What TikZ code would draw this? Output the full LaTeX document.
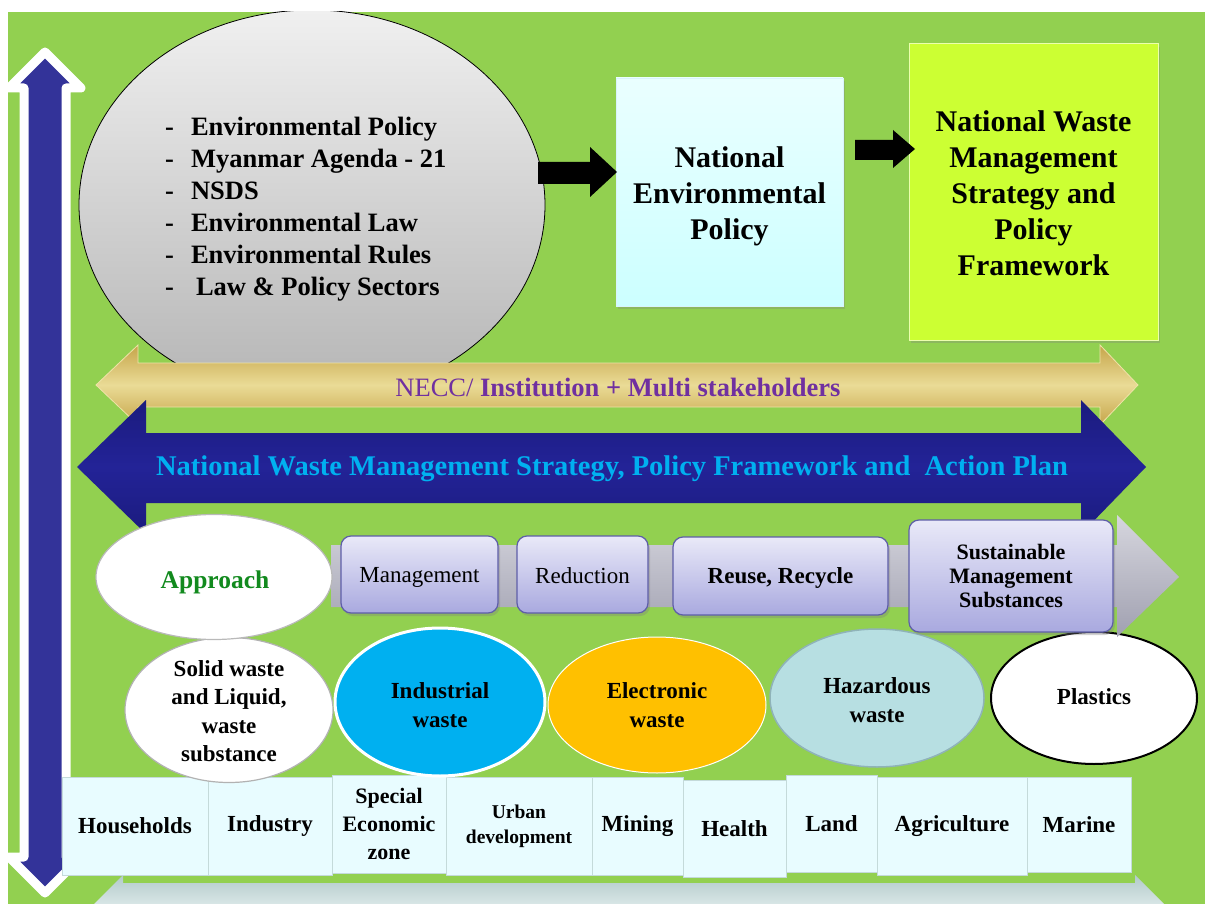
\documentclass[tikz,border=0pt]{standalone}
\usepackage{fontspec}
\setmainfont{Liberation Serif}
\usetikzlibrary{shapes.geometric,shadows}
\definecolor{bggreen}{HTML}{92D050}
\definecolor{vblue}{HTML}{333399}
\definecolor{neccdark}{HTML}{C6A54A}
\definecolor{necclight}{HTML}{EADB96}
\definecolor{neccline}{HTML}{EFE3A8}
\definecolor{navyA}{HTML}{1B1B7E}
\definecolor{navyB}{HTML}{232397}
\definecolor{cyantext}{HTML}{00B0F0}
\definecolor{purpletext}{HTML}{7030A0}
\definecolor{lavtop}{HTML}{E9E9F8}
\definecolor{lavbot}{HTML}{A9A9DF}
\definecolor{lavline}{HTML}{5E5EA8}
\definecolor{neptop}{HTML}{EAFFFF}
\definecolor{nepbot}{HTML}{CCFFFF}
\definecolor{nwms}{HTML}{CCFF33}
\definecolor{indblue}{HTML}{00B0F0}
\definecolor{elecorange}{HTML}{FFC000}
\definecolor{hazteal}{HTML}{B7DFE2}
\definecolor{hazline}{HTML}{8FB3B8}
\definecolor{apgreen}{HTML}{128A1E}
\definecolor{secfill}{HTML}{E8FCFF}
\definecolor{secline}{HTML}{C4DADA}
\definecolor{bandtop}{HTML}{B2CACA}
\definecolor{bandbot}{HTML}{D8E6E6}
\definecolor{greytop}{HTML}{F0F0F0}
\definecolor{greybot}{HTML}{B4B4B4}
\definecolor{chevtop}{HTML}{D6D6DE}
\definecolor{chevbot}{HTML}{A0A0B0}
\newcommand\fsz[2]{\fontsize{#1pt}{#2pt}\selectfont}
\tikzset{
  listtxt/.style={anchor=west, inner sep=0pt, font=\bfseries\fsz{26.5}{32}},
  txt/.style={inner sep=0pt, align=center},
  bigtxt/.style={txt, font=\bfseries\fsz{30}{36}},
  stepbox/.style={rectangle, rounded corners=10pt, draw=lavline, line width=1.2pt,
    top color=lavtop, bottom color=lavbot, inner sep=0pt, align=center,
    drop shadow={opacity=0.35, shadow xshift=2pt, shadow yshift=-3pt}},
  wasteell/.style={ellipse, inner sep=0pt, align=center},
  wastetxt/.style={txt, font=\bfseries\fsz{23}{29}},
  sectorbox/.style={rectangle, draw=secline, line width=0.8pt, fill=secfill, inner sep=0pt,
    align=center, font=\bfseries\fsz{23}{28}},
  blockarrow/.style={fill=black},
}
\begin{document}
\begin{tikzpicture}[x=1pt,y=-1pt]
\useasboundingbox (0,0) rectangle (1205,904);
\fill[white] (0,0) rectangle (1205,904);
\fill[bggreen] (8,12) rectangle (1205,904);

% vertical double arrow
\path[fill=vblue, draw=white, line width=9pt, line join=round]
  (45,52) -- (81,88) -- (66,88) -- (66,857) -- (81,857) -- (45,893)
  -- (9,857) -- (24,857) -- (24,88) -- (9,88) -- cycle;

% grey circle with sources
\begin{scope}
\clip (8,12) rectangle (1205,904);
\node[ellipse, draw=black, line width=0.8pt, top color=greytop, bottom color=greybot,
  minimum width=466pt, minimum height=390pt, inner sep=0pt] (sources) at (312,205) {};
\end{scope}
\node[listtxt] (list) at (165,209) {\begin{tabular}{@{}l@{\hspace{17pt}}l@{}}
-&Environmental Policy\\
-&Myanmar Agenda - 21\\
-&NSDS\\
-&Environmental Law\\
-&Environmental Rules\\
-&\hspace{5pt}Law \& Policy Sectors
\end{tabular}};

% boxes top
\node[rectangle, top color=neptop, bottom color=nepbot, draw=white!85!cyan, line width=0.6pt,
  minimum width=227pt, minimum height=228pt, inner sep=0pt,
  drop shadow={opacity=0.3, shadow xshift=2pt, shadow yshift=-3pt}] (nep) at (729.5,192) {};
\node[bigtxt] (neptext) at (729.5,196) {National\\Environmental\\Policy};
\node[rectangle, fill=nwms, draw=white!60!nwms, line width=1pt,
  minimum width=249pt, minimum height=296pt, inner sep=0pt,
  drop shadow={opacity=0.3, shadow xshift=2pt, shadow yshift=-3pt}] (nwms) at (1033.5,192) {};
\node[bigtxt] (nwmstext) at (1033.5,193)
  {National Waste\\Management\\Strategy and\\Policy\\Framework};

% black block arrows
\fill[blockarrow] (538,162) -- (590,162) -- (590,147) -- (617,172) -- (590,197) -- (590,184) -- (538,184) -- cycle;
\fill[blockarrow] (855,140) -- (893,140) -- (893,130) -- (915,149) -- (893,168) -- (893,160) -- (855,160) -- cycle;

% NECC double arrow
\path[top color=neccdark, bottom color=neccdark, middle color=necclight, draw=neccline, line width=0.8pt]
  (96,385) -- (138,345) -- (138,363) -- (1100,363) -- (1100,345) -- (1138,385)
  -- (1100,425) -- (1100,407) -- (138,407) -- (138,425) -- cycle;
\node[txt, text=purpletext, font=\fsz{26.5}{30}] (necc) at (618,387)
  {NECC/ \textbf{Institution + Multi stakeholders}};

% navy double arrow
\path[top color=navyA, bottom color=navyA, middle color=navyB]
  (77,467) -- (146,400) -- (146,433) -- (1081,433) -- (1081,400) -- (1146,467)
  -- (1081,534) -- (1081,503) -- (146,503) -- (146,534) -- cycle;
\node[txt, text=cyantext, font=\bfseries\fsz{28.5}{32}] (plan) at (612,469)
  {National Waste Management Strategy, Policy Framework and\ \ Action Plan};

% bottom band
\path[top color=bandtop, bottom color=bandbot]
  (94,904) -- (123,875) -- (123,883) -- (1135,883) -- (1135,875) -- (1164,904) -- cycle;

% sector boxes
\node[sectorbox, minimum width=146pt, minimum height=98pt] (hh) at (135,826) {Households};
\node[sectorbox, minimum width=124pt, minimum height=98pt] (ind) at (270,826) {Industry};
\node[sectorbox, minimum width=114pt, minimum height=98pt, font=\bfseries\fsz{22}{28}] (sez) at (389,824) {Special\\Economic\\zone};
\node[sectorbox, minimum width=146pt, minimum height=98pt, font=\bfseries\fsz{19.5}{25}] (urb) at (519,826) {Urban\\development};
\node[sectorbox, minimum width=91pt, minimum height=98pt] (min) at (637.5,826) {Mining};
\node[sectorbox, minimum width=103pt, minimum height=97pt] (hea) at (734.5,828.5) {Health};
\node[sectorbox, minimum width=91pt, minimum height=97pt] (land) at (831.5,823.5) {Land};
\node[sectorbox, minimum width=150pt, minimum height=98pt] (agr) at (952,826) {Agriculture};
\node[sectorbox, minimum width=104pt, minimum height=95pt] (mar) at (1079,824.5) {Marine};

% waste ellipses
\node[wasteell, fill=white, draw=gray!60, line width=1.2pt, minimum width=208pt, minimum height=145pt] (solid) at (229,710) {};
\node[wastetxt, font=\bfseries\fsz{23}{28.5}] (solidtext) at (229,711) {Solid waste\\and Liquid,\\waste\\substance};
\node[wasteell, fill=indblue, draw=white, line width=3pt, minimum width=210pt, minimum height=148pt] (indw) at (440,702) {};
\node[wastetxt] (indtext) at (440,705.5) {Industrial\\waste};
\node[wasteell, fill=elecorange, draw=white, line width=1pt, minimum width=218pt, minimum height=136pt] (elec) at (657,705) {};
\node[wastetxt] (electext) at (657,705.5) {Electronic\\waste};
\node[wasteell, fill=hazteal, draw=hazline, line width=1.5pt, minimum width=214pt, minimum height=138pt] (haz) at (877,698) {};
\node[wastetxt] (haztext) at (877,700) {Hazardous\\waste};
\node[wasteell, fill=white, draw=black, line width=2pt, minimum width=206pt, minimum height=132pt] (plas) at (1094,698) {};
\node[wastetxt] (plastext) at (1094,697) {Plastics};

% approach chevron band
\path[top color=chevtop, bottom color=chevbot]
  (331,545) -- (1117,545) -- (1117,515) -- (1179,577) -- (1117,637) -- (1117,607) -- (331,607) -- cycle;

\node[stepbox, minimum width=157pt, minimum height=77pt] (mgmt) at (419.5,574.5) {};
\node[txt, font=\fsz{23}{28}] (mgmttext) at (419.5,577) {Management};
\node[stepbox, minimum width=131pt, minimum height=77pt] (red) at (582.5,574.5) {};
\node[txt, font=\fsz{23}{28}] (redtext) at (582.5,575.5) {Reduction};
\node[stepbox, minimum width=215pt, minimum height=78pt] (reuse) at (780.5,576) {};
\node[txt, font=\bfseries\fsz{23}{28}] (reusetext) at (780.5,578) {Reuse, Recycle};
\node[stepbox, minimum width=204pt, minimum height=112pt] (sms) at (1011,576) {};
\node[txt, font=\bfseries\fsz{22}{24}] (smstext) at (1011,576) {Sustainable\\Management\\Substances};

\node[ellipse, fill=white, draw=gray!55, line width=1.2pt, minimum width=236pt, minimum height=125pt, inner sep=0pt] (appr) at (214,577) {};
\node[txt, text=apgreen, font=\bfseries\fsz{25.5}{30}] (apprtext) at (215,582) {Approach};

\end{tikzpicture}
\end{document}
